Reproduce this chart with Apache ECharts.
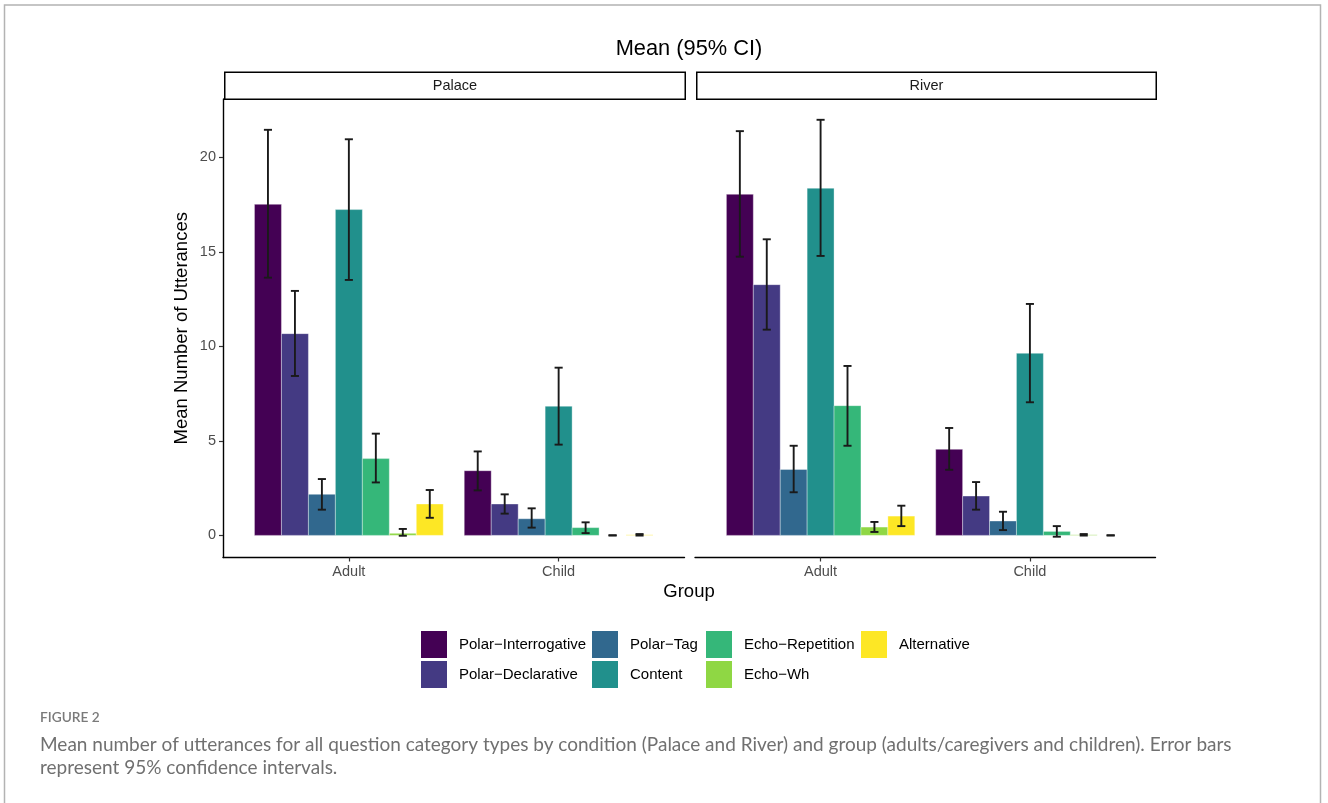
<!DOCTYPE html>
<html>
<head>
<meta charset="utf-8">
<script src="https://cdn.jsdelivr.net/npm/echarts@6/dist/echarts.min.js"></script>
<style>
html,body{margin:0;padding:0;background:#fff;}
#chart{width:1328px;height:803px;}
</style>
</head>
<body>
<div id="chart"></div>
<script>
// ---- data ----
const categories = ['Adult', 'Child'];
const facets = ['Palace', 'River'];
const seriesNames = ['Polar\u2212Interrogative', 'Polar\u2212Declarative', 'Polar\u2212Tag', 'Content', 'Echo\u2212Repetition', 'Echo\u2212Wh', 'Alternative'];
const seriesColors = ['#440154', '#443A83', '#31688E', '#21908C', '#35B779', '#8FD744', '#FDE725'];
// rows follow seriesNames, columns follow categories
const palaceMean  = [[17.51, 3.42], [10.67, 1.66], [2.17, 0.88], [17.23, 6.83], [4.06, 0.41], [0.11, 0.00], [1.66, 0.03]];
const palaceLower = [[13.63, 2.38], [8.43, 1.15], [1.36, 0.41], [13.51, 4.80], [2.80, 0.12], [-0.02, 0.00], [0.93, -0.01]];
const palaceUpper = [[21.45, 4.44], [12.93, 2.17], [2.98, 1.43], [20.95, 8.87], [5.38, 0.69], [0.34, 0.00], [2.40, 0.07]];
const riverMean   = [[18.04, 4.55], [13.26, 2.08], [3.49, 0.76], [18.36, 9.63], [6.86, 0.21], [0.44, 0.03], [1.02, 0.00]];
const riverLower  = [[14.74, 3.47], [10.88, 1.36], [2.28, 0.28], [14.78, 7.04], [4.74, -0.07], [0.18, -0.01], [0.49, 0.00]];
const riverUpper  = [[21.38, 5.68], [15.66, 2.82], [4.74, 1.25], [21.98, 12.24], [8.96, 0.49], [0.71, 0.07], [1.57, 0.00]];
const yTicks = [0, 5, 10, 15, 20];

// ---- layout helpers ----
const nSer = seriesNames.length;
const dodge = 0.9;
const bw = dodge / nSer;
const capW = bw * 0.3;
function xPos(g, i) { return (g + 1) + (i - (nSer - 1) / 2) * bw; }

const font = '"Liberation Sans", Arial, Helvetica, sans-serif';
const facetData = [
  {mean: palaceMean, lower: palaceLower, upper: palaceUpper},
  {mean: riverMean, lower: riverLower, upper: riverUpper}
];

const series = [];
facetData.forEach((fd, f) => {
  seriesNames.forEach((name, i) => {
    series.push({
      type: 'custom',
      name: name,
      xAxisIndex: f, yAxisIndex: f,
      itemStyle: {color: seriesColors[i]},
      encode: {x: 0, y: 1},
      data: categories.map((c, g) => [xPos(g, i), fd.mean[i][g]]),
      renderItem: function (params, api) {
        const xc = api.value(0), v = api.value(1);
        const p0 = api.coord([xc - bw / 2, v]);
        const p1 = api.coord([xc + bw / 2, 0]);
        return {
          type: 'rect',
          shape: {x: p0[0], y: Math.min(p0[1], p1[1]), width: p1[0] - p0[0], height: Math.abs(p1[1] - p0[1])},
          style: {fill: seriesColors[i], stroke: 'rgba(255,255,255,0.45)', lineWidth: 0.8}
        };
      },
      z: 2
    });
  });
  // error bars
  const errData = [];
  seriesNames.forEach((name, i) => {
    categories.forEach((c, g) => {
      errData.push([xPos(g, i), fd.lower[i][g], fd.upper[i][g]]);
    });
  });
  series.push({
    type: 'custom',
    name: 'err-' + facets[f],
    xAxisIndex: f, yAxisIndex: f,
    encode: {x: 0, y: [1, 2]},
    data: errData,
    z: 5,
    renderItem: function (params, api) {
      const xc = api.value(0), lo = api.value(1), hi = api.value(2);
      const a = api.coord([xc, lo]);
      const b = api.coord([xc, hi]);
      const l = api.coord([xc - capW / 2, lo]);
      const r = api.coord([xc + capW / 2, lo]);
      const lt = api.coord([xc - capW / 2, hi]);
      const rt = api.coord([xc + capW / 2, hi]);
      const st = {stroke: '#1a1a1a', lineWidth: 1.9};
      return {
        type: 'group',
        children: [
          {type: 'line', shape: {x1: a[0], y1: a[1], x2: b[0], y2: b[1]}, style: st},
          {type: 'line', shape: {x1: l[0], y1: l[1], x2: r[0], y2: r[1]}, style: st},
          {type: 'line', shape: {x1: lt[0], y1: lt[1], x2: rt[0], y2: rt[1]}, style: st}
        ]
      };
    }
  });
});

const grids = [
  {left: 223, top: 99, width: 461.5, height: 458.5},
  {left: 695, top: 99, width: 460.5, height: 458.5}
];

const xAxes = grids.map((g, f) => ({
  type: 'value', gridIndex: f, min: 0.4, max: 2.6,
  axisLine: {show: true, onZero: false, lineStyle: {color: '#000', width: 1.4}},
  axisTick: {show: true, customValues: [1, 2], length: 4, lineStyle: {color: '#333', width: 1.2}},
  axisLabel: {show: true, customValues: [1, 2], formatter: v => categories[Math.round(v) - 1] || '',
    color: '#4d4d4d', fontSize: 14.5, fontFamily: font, margin: 7},
  splitLine: {show: false}
}));

const yAxes = grids.map((g, f) => ({
  type: 'value', gridIndex: f, min: -1.17, max: 23.08,
  name: f === 0 ? 'Mean Number of Utterances' : '',
  nameLocation: 'middle', nameRotate: 90, nameGap: 32,
  nameTextStyle: {color: '#000', fontSize: 18.5, fontFamily: font},
  axisLine: {show: f === 0, onZero: false, lineStyle: {color: '#000', width: 1.4}},
  axisTick: {show: f === 0, customValues: yTicks, length: 4, lineStyle: {color: '#333', width: 1.2}},
  axisLabel: {show: f === 0, customValues: yTicks, color: '#4d4d4d', fontSize: 14.5, fontFamily: font, margin: 7},
  splitLine: {show: false}
}));

// legend columns (column-major as in reference)
const legendCols = [
  {left: 421, names: [0, 1]},
  {left: 592, names: [2, 3]},
  {left: 706, names: [4, 5]},
  {left: 861, names: [6]}
];
const legends = legendCols.map(c => ({
  orient: 'vertical', left: c.left, top: 631, padding: 0,
  data: c.names.map(i => ({name: seriesNames[i], icon: 'rect'})),
  itemWidth: 26, itemHeight: 27, itemGap: 3,
  selectedMode: false,
  textStyle: {color: '#000', fontSize: 15, fontFamily: font, padding: [2, 0, 0, 7]}
}));

const strips = facets.map((name, f) => {
  const g = grids[f];
  return {
    type: 'group', left: g.left + 1, top: 71.5,
    children: [
      {type: 'rect', shape: {x: 0, y: 0, width: g.width - 1, height: 27}, style: {fill: '#fff', stroke: '#000', lineWidth: 1.5}},
      {type: 'text', x: (g.width - 1) / 2, y: 13.5, style: {text: name, fill: '#1a1a1a', font: '14.5px ' + font, textAlign: 'center', textVerticalAlign: 'middle'}}
    ]
  };
});

const capFont = 'Lato, "Open Sans", sans-serif';
const chart = echarts.init(document.getElementById('chart'), null, {renderer: 'canvas'});
chart.setOption({
  animation: false,
  backgroundColor: '#fff',
  grid: grids,
  xAxis: xAxes,
  yAxis: yAxes,
  legend: legends,
  series: series,
  graphic: [
    {type: 'polyline', shape: {points: [[4.5, 803], [4.5, 5], [1320.5, 5], [1320.5, 803]]}, style: {stroke: '#b3b3b3', lineWidth: 1.5, fill: null}, silent: true},
    {type: 'text', position: [689, 49], style: {text: 'Mean (95% CI)', fill: '#000', font: '21.8px ' + font, textAlign: 'center', textVerticalAlign: 'middle'}},
    {type: 'text', position: [689, 592], style: {text: 'Group', fill: '#000', font: '18.5px ' + font, textAlign: 'center', textVerticalAlign: 'middle'}},
    ...strips,
    {type: 'text', position: [40, 718], style: {text: 'FIGURE 2', fill: '#7a7a7a', font: '600 13.7px ' + capFont, textVerticalAlign: 'middle'}},
    {type: 'text', position: [40, 745], style: {text: 'Mean number of utterances for all question category types by condition (Palace and River) and group (adults/caregivers and children). Error bars', fill: '#707070', font: '19px ' + capFont, textVerticalAlign: 'middle'}},
    {type: 'text', position: [40, 768], style: {text: 'represent 95% confidence intervals.', fill: '#707070', font: '19px ' + capFont, textVerticalAlign: 'middle'}}
  ]
});
</script>
</body>
</html>
